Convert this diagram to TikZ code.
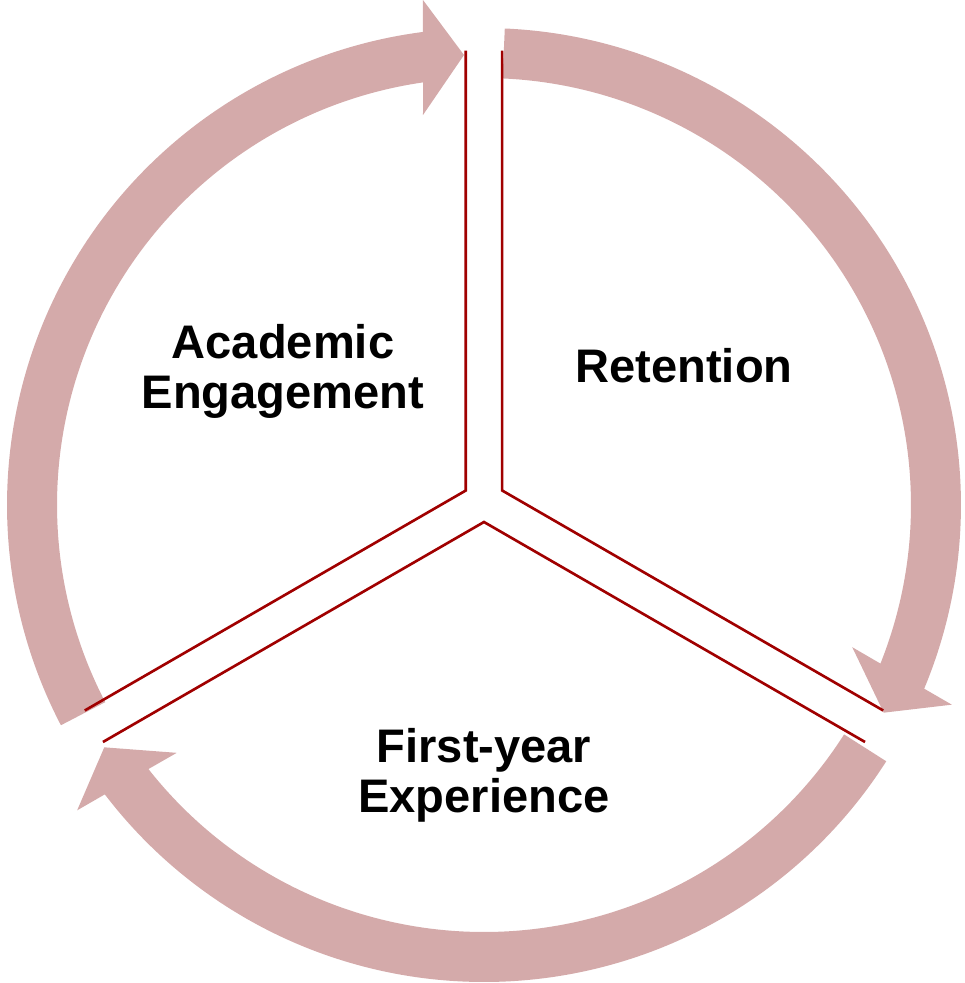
\documentclass[tikz,border=0pt]{standalone}
\usepackage{fontspec}
\setmainfont{Liberation Sans}
\definecolor{rimpink}{RGB}{212,170,170}
\definecolor{spokered}{RGB}{160,0,0}
\begin{document}
\begin{tikzpicture}[line join=miter, line cap=butt,
    font=\fontsize{13.4}{14.2}\selectfont\bfseries]
                \pgfmathsetmacro\gap{.21}
                \pgfmathsetmacro\r{4.40}
                \useasboundingbox (-4.84,-4.78) rectangle (4.81,5.05);
                % arrows round the rim
                \foreach \k in {0,1,2}
                \fill[rimpink, rotate=-120*\k]
                (207.5:4.77) arc[start angle=207.5, end angle=97.35, radius=4.77]
                -- (-.61,5.05) -- (-.20,4.50) -- (-.61,3.90) -- (98.2:4.27)
                arc[start angle=98.2, end angle=207.5, radius=4.27] -- cycle;
                % slice edges, pulled apart from the middle
                \foreach \m in {150,30,270}
                \draw[spokered, line width=.75pt, shift={(0,.04)}]
                (\m:\gap) ++(\m+60:\r) -- (\m:\gap) -- ++(\m-60:\r);
                \node[anchor=base, align=center] (engage) at (-2.01,.97) {Academic\\Engagement};
                \node[anchor=base] (retain) at (2.00,1.23) {Retention};
                \node[anchor=base, align=center] (firstyear) at (0,-3.07) {First-year\\Experience};
            \end{tikzpicture}
\end{document}
